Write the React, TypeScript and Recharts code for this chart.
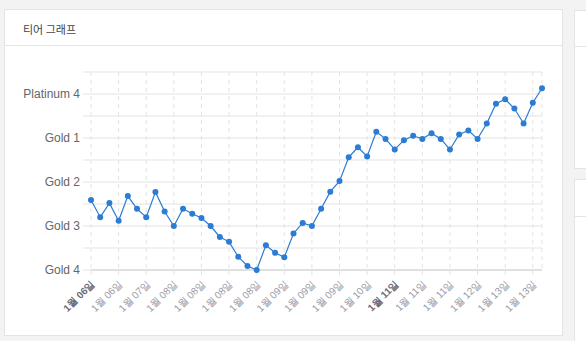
import { CartesianGrid, Line, LineChart, XAxis, YAxis } from 'recharts';

// tier scale: every 100 points = one division (Gold 4 = 0)
const tierNames = ['Gold 4', 'Gold 3', 'Gold 2', 'Gold 1', 'Platinum 4'];
const yTicks = [0, 50, 100, 150, 200, 250, 300, 350, 400, 450];

const dates = [
  '1월 06일', '1월 06일', '1월 06일', '1월 06일', '1월 06일', '1월 06일',
  '1월 07일', '1월 07일', '1월 07일',
  '1월 08일', '1월 08일', '1월 08일', '1월 08일', '1월 08일', '1월 08일',
  '1월 08일', '1월 08일', '1월 08일', '1월 08일', '1월 08일', '1월 08일',
  '1월 09일', '1월 09일', '1월 09일', '1월 09일', '1월 09일', '1월 09일',
  '1월 09일', '1월 09일', '1월 09일',
  '1월 10일', '1월 10일', '1월 10일',
  '1월 11일', '1월 11일', '1월 11일', '1월 11일', '1월 11일', '1월 11일',
  '1월 11일', '1월 11일', '1월 11일',
  '1월 12일', '1월 12일', '1월 12일',
  '1월 13일', '1월 13일', '1월 13일', '1월 13일', '1월 13일',
];

const tierValues = [
  159, 120, 152, 112, 168, 139, 120, 177, 133, 100,
  139, 128, 118, 100, 75, 64, 30, 9, 0, 56,
  39, 29, 83, 107, 100, 139, 178, 202, 256, 279,
  258, 314, 298, 274, 295, 305, 298, 311, 298, 274,
  308, 317, 298, 333, 378, 388, 367, 333, 380, 413,
];

// x ticks shown every third point; these ones are drawn bold
const xTicks = [0, 3, 6, 9, 12, 15, 18, 21, 24, 27, 30, 33, 36, 39, 42, 45, 48];
const boldTicks = [0, 33];

const data = tierValues.map((v, i) => ({ i, date: dates[i], v }));

const LINE = '#2b7cd3';
const GRID = '#e3e3e3';

function DateTick(props: any) {
  const { x, y, payload } = props;
  const bold = boldTicks.includes(payload.value);
  return (
    <g transform={`translate(${x + 2},${y + 5})`}>
      <text
        transform="rotate(-45)"
        textAnchor="end"
        dy="0.35em"
        fontSize={10}
        fontWeight={bold ? 700 : 400}
        fill={bold ? '#6b6b78' : '#9a9aa6'}
      >
        {dates[payload.value]}
      </text>
    </g>
  );
}

export default function App() {
  return (
    <div
      style={{
        position: 'absolute',
        left: 0,
        top: 0,
        width: 586,
        height: 341,
        background: '#f3f3f3',
        overflow: 'hidden',
        fontFamily: '"Liberation Sans", Arial, sans-serif',
      }}
    >
      <div
        style={{
          position: 'absolute',
          left: 4,
          top: 9,
          width: 557,
          height: 325,
          background: '#fff',
          border: '1px solid #e4e4e4',
        }}
      >
        <div
          style={{
            height: 35,
            borderBottom: '1px solid #e4e4e4',
            paddingLeft: 18,
            lineHeight: '38px',
            fontSize: 11,
            color: '#444',
            fontFamily: '"Noto Sans CJK KR", sans-serif',
          }}
        >
          티어 그래프
        </div>
      </div>
      <div
        style={{
          position: 'absolute',
          left: 574,
          top: 10,
          width: 100,
          height: 157,
          background: '#fff',
          border: '1px solid #e4e4e4',
        }}
      >
        <div style={{ height: 35, borderBottom: '1px solid #e4e4e4' }} />
      </div>
      <div
        style={{
          position: 'absolute',
          left: 574,
          top: 179,
          width: 100,
          height: 200,
          background: '#fff',
          border: '1px solid #e4e4e4',
        }}
      >
        <div style={{ height: 36, borderBottom: '1px solid #e4e4e4' }} />
      </div>
      <div style={{ position: 'absolute', left: 0, top: 0 }}>
        <LineChart
          width={586}
          height={341}
          data={data}
          margin={{ top: 72, right: 44, bottom: 11, left: 0 }}
        >
          <CartesianGrid horizontal vertical={false} stroke={GRID} />
          <CartesianGrid horizontal={false} vertical stroke={GRID} strokeDasharray="4 4" />
          <XAxis
            dataKey="i"
            type="number"
            domain={[0, 49]}
            ticks={xTicks}
            interval={0}
            height={60}
            tickSize={5}
            tickLine={{ stroke: GRID }}
            axisLine={{ stroke: '#cfcfcf' }}
            tick={<DateTick />}
          />
          <YAxis
            type="number"
            domain={[0, 450]}
            ticks={yTicks}
            interval={0}
            width={91}
            tickSize={8}
            tickMargin={3}
            axisLine={false}
            tickLine={{ stroke: GRID }}
            tick={{ fontSize: 12, fill: '#666' }}
            tickFormatter={(v: number) => (v % 100 === 0 && v <= 400 ? tierNames[v / 100] : '')}
          />
          <Line
            type="linear"
            dataKey="v"
            stroke={LINE}
            strokeWidth={1.2}
            dot={{ r: 3, fill: LINE, stroke: LINE, strokeWidth: 0 }}
            activeDot={false}
            isAnimationActive={false}
          />
        </LineChart>
      </div>
    </div>
  );
}
